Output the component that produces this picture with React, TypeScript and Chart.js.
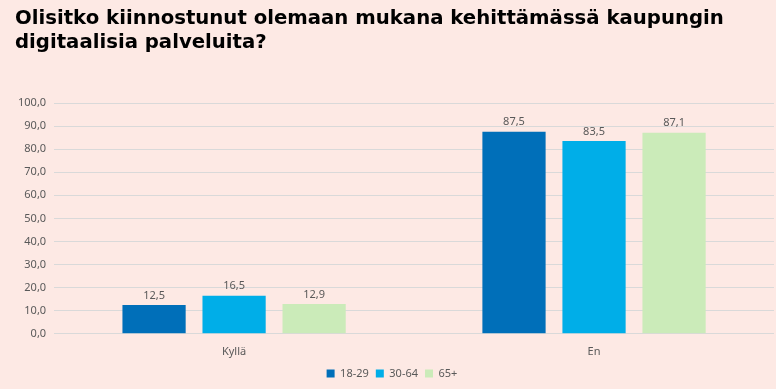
import React, { useEffect, useRef } from "react";
import { Chart, registerables } from "chart.js";

Chart.register(...registerables);

const categories = ["Kyllä", "En"];
const seriesNames = ["18-29", "30-64", "65+"];
const values1829 = [12.5, 87.5];
const values3064 = [16.5, 83.5];
const values65 = [12.9, 87.1];
const titleLines = ["Olisitko kiinnostunut olemaan mukana kehittämässä kaupungin", "digitaalisia palveluita?"];

const colors = ["#006FB9", "#00AEE8", "#CBEBB9"];
const fmt = (v: number) => v.toFixed(1).replace(".", ",");

const labelPlugin = {
  id: "valueLabels",
  afterDatasetsDraw(chart: any) {
    const ctx = chart.ctx;
    ctx.save();
    ctx.font = "11px 'Noto Sans'";
    ctx.fillStyle = "#595959";
    ctx.textAlign = "center";
    ctx.textBaseline = "bottom";
    chart.data.datasets.forEach((ds: any, i: number) => {
      const meta = chart.getDatasetMeta(i);
      meta.data.forEach((bar: any, j: number) => {
        ctx.fillText(fmt(ds.data[j]), bar.x, bar.y - 4);
      });
    });
    ctx.restore();
  },
};

export default function App() {
  const ref = useRef<HTMLCanvasElement>(null);
  useEffect(() => {
    document.body.style.margin = "0";
    document.body.style.background = "#FDE9E4";
    const chart = new Chart(ref.current!, {
      type: "bar",
      data: {
        labels: categories,
        datasets: [values1829, values3064, values65].map((d, i) => ({
          label: seriesNames[i],
          data: d,
          backgroundColor: colors[i],
          categoryPercentage: 0.667,
          barPercentage: 0.79,
        })),
      },
      options: {
        animation: false,
        responsive: false,
        layout: { padding: { left: 10, right: 2, top: 103, bottom: 0 } },
        plugins: {
          legend: {
            position: "bottom",
            labels: {
              boxWidth: 8,
              boxHeight: 8,
              padding: 7,
              color: "#595959",
              font: { family: "Noto Sans", size: 11 },
            },
          },
          tooltip: { enabled: false },
        },
        scales: {
          x: {
            grid: { display: false },
            border: { display: false },
            ticks: { color: "#595959", font: { family: "Noto Sans", size: 11 } },
          },
          y: {
            min: 0,
            max: 100,
            ticks: {
              stepSize: 10,
              color: "#595959",
              padding: 8,
              font: { family: "Noto Sans", size: 11 },
              callback: (v: any) => fmt(Number(v)),
            },
            grid: { color: "#D9D9D9", drawTicks: false },
            border: { display: false },
          },
        },
      },
      plugins: [labelPlugin],
    });
    return () => chart.destroy();
  }, []);
  return (
    <div style={{ position: "relative", width: 776, height: 389, background: "#FDE9E4" }}>
      <div
        style={{
          position: "absolute",
          left: 15,
          top: 6,
          fontFamily: "'DejaVu Sans', sans-serif",
          fontWeight: "bold",
          fontSize: 19.7,
          lineHeight: "24px",
          color: "#000",
          whiteSpace: "nowrap",
        }}
      >
        {titleLines.map((t, i) => (
          <div key={i}>{t}</div>
        ))}
      </div>
      <canvas ref={ref} width={776} height={389} style={{ display: "block" }} />
    </div>
  );
}
